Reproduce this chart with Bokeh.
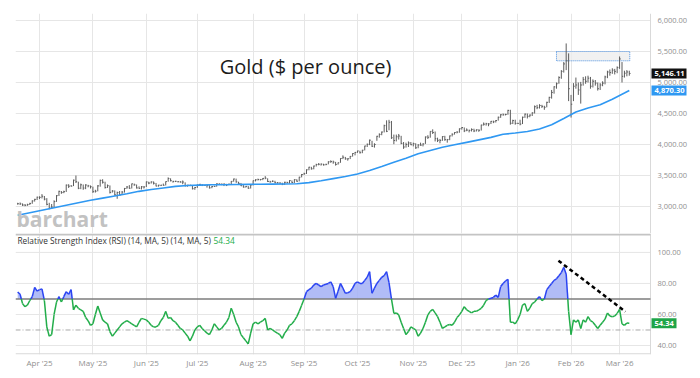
import pandas as pd
from bokeh.plotting import figure
from bokeh.layouts import column
from bokeh.models import Range1d, FixedTicker, Label
from bokeh.core.properties import value
from bokeh.embed import file_html
from bokeh.resources import INLINE

# ---------------- data ----------------
first_date = "2025-03-19"   # first daily bar (business days)

close = [
    3045, 3043, 3024,
    3020, 3030, 3050, 3090, 3115,
    3150, 3148, 3166, 3120, 3035,
    2975, 2990, 3080, 3175, 3245,
    3225, 3240, 3345, 3328, 3330,
    3425, 3400, 3295, 3350, 3298,
    3347, 3333, 3319, 3240, 3247,
    3333, 3421, 3392, 3306, 3336,
    3228, 3250, 3188, 3226, 3187,
    3233, 3291, 3315, 3295, 3366,
    3350, 3300, 3293, 3318, 3315,
    3397, 3378, 3397, 3376, 3331,
    3345, 3344, 3343, 3402, 3452,
    3416, 3405, 3407, 3400, 3395,
    3395, 3334, 3344, 3343, 3287,
    3307, 3349, 3358, 3342, 3340,
    3342, 3301, 3322, 3325, 3365,
    3363, 3360, 3360, 3347, 3359,
    3406, 3444, 3397, 3373, 3335,
    3314, 3325, 3296, 3348, 3416,
    3431, 3435, 3435, 3454, 3458,
    3404, 3398, 3409, 3383, 3382,
    3378, 3357, 3391, 3385, 3418,
    3386, 3433, 3408, 3473, 3516,
    3530, 3592, 3634, 3608, 3653,
    3677, 3682, 3684, 3672, 3680,
    3721, 3725, 3717, 3679, 3705,
    3775, 3795, 3769, 3770, 3809,
    3855, 3873, 3897, 3868, 3908,
    3976, 4004, 4070, 3972, 4000,
    4133, 4163, 4201, 4304, 4213,
    4359, 4109, 4065, 4125, 4137,
    4018, 3960, 4000, 4025, 3996,
    4014, 3947, 3992, 3990, 4009,
    4122, 4116, 4212, 4194, 4094,
    4068, 4066, 4128, 4078, 4079,
    4139, 4166, 4194, 4200, 4254,
    4274, 4221, 4233, 4228, 4243,
    4219, 4238, 4230, 4314, 4328,
    4335, 4332, 4374, 4366, 4387,
    4440, 4480, 4480, 4485, 4550,
    4343, 4386, 4341, 4341, 4330,
    4440, 4490, 4455, 4475, 4510,
    4610, 4595, 4630, 4615, 4600,
    4680, 4760, 4840, 4930, 4980,
    5080, 5180, 5300, 5350, 4900,
    4650, 4940, 4960, 4880, 4960,
    5050, 5020, 5070, 4940, 5020,
    4990, 4900, 4960, 4990, 5090,
    5170, 5160, 5200, 5180, 5240,
    5380, 5100, 5150, 5170, 5146.11,
]

high = [
    3060, 3065, 3050,
    3040, 3045, 3060, 3100, 3125,
    3160, 3165, 3200, 3170, 3135,
    3060, 3040, 3100, 3185, 3255,
    3250, 3255, 3355, 3360, 3345,
    3435, 3500, 3400, 3370, 3355,
    3360, 3350, 3340, 3320, 3270,
    3345, 3435, 3440, 3400, 3355,
    3340, 3265, 3260, 3240, 3250,
    3250, 3300, 3330, 3345, 3370,
    3370, 3355, 3325, 3330, 3330,
    3405, 3400, 3405, 3405, 3380,
    3350, 3350, 3370, 3405, 3470,
    3455, 3415, 3415, 3410, 3410,
    3420, 3390, 3350, 3350, 3340,
    3315, 3355, 3365, 3360, 3345,
    3350, 3345, 3330, 3335, 3375,
    3375, 3370, 3375, 3365, 3370,
    3410, 3450, 3450, 3400, 3380,
    3345, 3330, 3330, 3355, 3420,
    3440, 3450, 3445, 3460, 3490,
    3455, 3415, 3420, 3415, 3395,
    3390, 3385, 3400, 3400, 3425,
    3420, 3440, 3440, 3480, 3525,
    3545, 3600, 3640, 3640, 3660,
    3690, 3700, 3695, 3690, 3690,
    3730, 3745, 3740, 3720, 3710,
    3780, 3825, 3800, 3780, 3815,
    3860, 3880, 3900, 3900, 3915,
    3980, 4015, 4080, 4060, 4020,
    4140, 4180, 4210, 4320, 4390,
    4398, 4380, 4160, 4160, 4170,
    4140, 4040, 4030, 4050, 4040,
    4030, 4020, 4005, 4030, 4020,
    4130, 4150, 4215, 4245, 4210,
    4110, 4090, 4135, 4140, 4090,
    4145, 4180, 4200, 4215, 4260,
    4280, 4275, 4260, 4240, 4260,
    4255, 4245, 4245, 4320, 4355,
    4350, 4345, 4380, 4385, 4395,
    4450, 4490, 4500, 4495, 4560,
    4560, 4400, 4400, 4350, 4400,
    4450, 4500, 4500, 4485, 4520,
    4630, 4640, 4650, 4640, 4625,
    4690, 4770, 4880, 4940, 5000,
    5100, 5200, 5330, 5630, 5470,
    4800, 4990, 5080, 5000, 5010,
    5090, 5100, 5110, 5090, 5050,
    5040, 5000, 4990, 5020, 5110,
    5190, 5210, 5230, 5220, 5260,
    5420, 5330, 5190, 5200, 5190,
]

low = [
    3030, 3025, 3010,
    3005, 3012, 3025, 3045, 3080,
    3105, 3120, 3130, 3100, 3020,
    2955, 2960, 2985, 3075, 3170,
    3205, 3215, 3235, 3300, 3320,
    3330, 3380, 3280, 3280, 3270,
    3280, 3310, 3290, 3220, 3225,
    3245, 3320, 3370, 3290, 3300,
    3210, 3225, 3175, 3125, 3180,
    3185, 3225, 3285, 3285, 3290,
    3335, 3290, 3285, 3275, 3290,
    3315, 3360, 3370, 3355, 3325,
    3320, 3330, 3335, 3340, 3400,
    3405, 3385, 3395, 3390, 3385,
    3360, 3325, 3320, 3330, 3275,
    3270, 3300, 3340, 3330, 3335,
    3305, 3290, 3295, 3315, 3320,
    3350, 3345, 3330, 3330, 3345,
    3355, 3400, 3385, 3365, 3330,
    3305, 3305, 3285, 3290, 3340,
    3405, 3420, 3420, 3425, 3440,
    3395, 3385, 3395, 3375, 3370,
    3370, 3345, 3350, 3375, 3370,
    3380, 3380, 3400, 3405, 3470,
    3510, 3525, 3585, 3595, 3600,
    3645, 3665, 3660, 3660, 3665,
    3680, 3705, 3690, 3660, 3675,
    3705, 3765, 3755, 3740, 3765,
    3805, 3825, 3865, 3855, 3860,
    3905, 3960, 3990, 3960, 3950,
    4060, 4110, 4150, 4195, 4200,
    4230, 4090, 4005, 4050, 4080,
    4005, 3930, 3950, 3960, 3990,
    3970, 3930, 3940, 3980, 3970,
    4010, 4090, 4110, 4170, 4050,
    4040, 4020, 4060, 4060, 4030,
    4070, 4130, 4160, 4180, 4190,
    4240, 4200, 4215, 4195, 4210,
    4200, 4210, 4205, 4225, 4305,
    4305, 4295, 4330, 4345, 4355,
    4385, 4430, 4465, 4470, 4480,
    4320, 4330, 4320, 4335, 4310,
    4330, 4430, 4420, 4440, 4460,
    4500, 4570, 4580, 4590, 4560,
    4600, 4670, 4740, 4820, 4900,
    4980, 5060, 5160, 5200, 4700,
    4435, 4700, 4900, 4800, 4660,
    4950, 4980, 5000, 4900, 4920,
    4950, 4870, 4880, 4940, 4970,
    5070, 5110, 5140, 5130, 5150,
    5220, 5000, 5080, 5100, 5110,
]

# moving average (blue line), read at weekly bar positions
ma_bar = [0, 5, 10, 15, 20, 25, 30, 35, 40, 45, 50, 55, 60, 65, 70, 75, 80, 85,
          90, 95, 100, 105, 110, 115, 120, 125, 130, 135, 140, 145, 150, 155,
          160, 165, 170, 175, 180, 185, 190, 195, 200, 205, 210, 215, 220, 225,
          230, 235, 240, 245, 250, 252]
ma_val = [2860, 2900, 2940, 2980, 3020, 3060, 3100, 3135, 3170, 3205, 3245, 3275,
          3300, 3325, 3340, 3345, 3350, 3352, 3355, 3358, 3360, 3362, 3364, 3368,
          3385, 3415, 3450, 3485, 3525, 3580, 3645, 3715, 3780, 3850, 3905, 3955,
          3995, 4035, 4075, 4115, 4165, 4185, 4210, 4250, 4320, 4420, 4525, 4590,
          4640, 4730, 4830, 4870.30]

rsi = [
    74.5, 73, 67, 65, 66, 69, 71.5, 77.5, 75, 76,
    76.5, 69, 52, 46, 47, 60, 68, 71.5, 68, 71.5,
    74.7, 73, 76, 63, 66, 64, 63, 62, 58, 56,
    53, 54, 60, 65.5, 61, 56.5, 55, 54, 49, 46,
    48, 50, 52, 54, 55, 56, 55, 54, 53, 52,
    55, 57.5, 57, 56.5, 55, 53, 52, 52, 53, 56,
    58, 62, 57.5, 58, 56, 55, 53, 51, 50, 48,
    46, 43, 46, 50, 52, 53, 51, 49.5, 48, 47,
    50, 54, 52, 50, 51, 53, 55, 58, 64, 60,
    55, 52, 47, 45, 43, 41, 48, 54, 55, 54,
    55, 56, 57.5, 50, 51, 50, 49, 48, 47, 44.6,
    48, 50, 53, 54, 56, 58.6, 62, 66, 70, 74.7,
    76, 77, 79, 80, 79, 78, 79, 79.5, 80, 81,
    78, 70.4, 75, 80, 77, 73.7, 74, 74.7, 77, 80,
    81, 80, 80, 82, 84, 87.6, 73.7, 77, 80, 82,
    84, 85, 87.6, 80.5, 70, 60.7, 61, 59.7, 55, 51,
    47, 49, 52, 51, 50, 46, 48, 51, 55, 59.7,
    62, 63.3, 61, 58.6, 55, 51, 52, 53, 53.5, 53,
    55, 58, 59.7, 62, 65, 63, 62, 61, 62, 62,
    63, 64, 66, 69, 70, 70.5, 71, 72.5, 71, 78,
    80, 81.6, 82.7, 55, 55, 54, 56.5, 60, 66, 67,
    62, 64, 67, 68, 70, 71.5, 69, 70, 76, 78,
    80, 82, 83, 85, 87, 90.4, 86, 62, 47, 56.5,
    55, 56.5, 51, 56.5, 55, 58.6, 56, 55, 53, 51,
    53, 55, 57, 61, 59, 58.6, 59, 60.7, 63.3, 54,
    53, 54.5, 54.34,
]

month_labels = ["Apr '25", "May '25", "Jun '25", "Jul '25", "Aug '25", "Sep '25",
                "Oct '25", "Nov '25", "Dec '25", "Jan '26", "Feb '26", "Mar '26"]
price_ticks = [3000, 3500, 4000, 4500, 5000, 5500, 6000]
price_tick_labels = ["3,000.00", "3,500.00", "4,000.00", "4,500.00", "5,000.00",
                     "5,500.00", "6,000.00"]
rsi_ticks = [40, 60, 80, 100]
rsi_tick_labels = ["40.00", "60.00", "80.00", "100.00"]
rsi_levels = [70, 50]

# annotations drawn on the reference
box_bars = [222.0, 252.2]
box_price = [5350, 5500]
trend_bars = [222.8, 250.4]
trend_rsi = [94.7, 61.8]

last_close = close[-1]
last_ma = ma_val[-1]
last_rsi = rsi[-1]

# ---------------- styling / geometry ----------------
FONT = "Open Sans"
GRID = "#e6e6e6"
LBL = "#8f8f8f"
BAR = "#5c5c5c"
MA_C = "#2f98f2"
GREEN = "#22ad4a"
BLUE = "#2b44f2"
FILL = "#a3b0f6"

W, LEFT = 700, 15
FRAME_W = W - LEFT           # frame runs to the right edge
PLOT_W = 635                 # width of the charting area (axis line at x=650)
X0 = -0.9
BAR_PX = 2.427               # pixels per daily bar
X1 = X0 + FRAME_W / BAR_PX
XR = X0 + PLOT_W / BAR_PX    # bar coordinate of the right axis line

P_LO, P_HI, P_FH = 2565, 6113, 220
R_LO, R_HI, R_FH = 34.2, 112.2, 121
p_upx = (P_HI - P_LO) / P_FH  # price per pixel
r_upx = (R_HI - R_LO) / R_FH  # rsi per pixel

N = len(close)
bars = list(range(N))
dates = pd.bdate_range(first_date, periods=N)
month_pos = [i for i in range(1, N) if dates[i].month != dates[i - 1].month]

xr = Range1d(X0, X1)
tf = value(FONT)


def style_common(p):
    p.outline_line_color = None
    p.background_fill_color = "white"
    p.border_fill_color = "white"
    p.yaxis.visible = False
    p.ygrid.visible = False
    p.xgrid.ticker = FixedTicker(ticks=month_pos)
    p.xgrid.grid_line_color = GRID


def right_scale(p, ticks, labels):
    p.segment(x0=[X0] * len(ticks), x1=[XR] * len(ticks), y0=ticks, y1=ticks,
              line_color=GRID, line_width=1)
    p.text(x=[XR] * len(ticks), y=ticks, text=labels, x_offset=7,
           text_font=tf, text_font_size="7.5px", text_color=LBL,
           text_baseline="middle", text_align="left")


def value_box(p, yv, label, color, width_px, upx):
    p.quad(left=[XR + 1 / BAR_PX], right=[XR + (1 + width_px) / BAR_PX],
           bottom=[yv - 5 * upx], top=[yv + 5 * upx], fill_color=color,
           line_color=None)
    p.text(x=[XR], y=[yv], text=[label], x_offset=4, text_font=tf,
           text_font_size="7.5px", text_font_style="bold", text_color="white",
           text_baseline="middle", text_align="left")


# ---------------- price panel ----------------
p1 = figure(width=W, height=233, x_range=xr, y_range=Range1d(P_LO, P_HI),
            output_backend="svg", toolbar_location=None,
            min_border_left=LEFT, min_border_right=0, min_border_top=13,
            min_border_bottom=0)
style_common(p1)
p1.xaxis.visible = False

right_scale(p1, price_ticks, price_tick_labels)
p1.segment(x0=[XR], x1=[XR], y0=[P_LO], y1=[P_HI], line_color="#d9d9d9",
           line_width=1)

p1.quad(left=[box_bars[0]], right=[box_bars[1]], bottom=[box_price[0]],
        top=[box_price[1]], fill_color="#ececec", fill_alpha=0.75,
        line_color="#4a8fe0", line_dash="1 1", line_width=1)
p1.segment(x0=bars, y0=low, x1=bars, y1=high, line_color=BAR, line_width=1)
p1.segment(x0=bars, y0=close, x1=[b + 0.5 for b in bars], y1=close,
           line_color=BAR, line_width=1)
p1.line(ma_bar, ma_val, line_color=MA_C, line_width=1.6)

value_box(p1, last_close, f"{last_close:,.2f}", "#111111", 35, p_upx)
value_box(p1, last_ma, f"{last_ma:,.2f}", MA_C, 35, p_upx)

p1.add_layout(Label(x=118.6, y=5258, text="Gold ($ per ounce)", text_font=FONT,
                    text_font_size="20px", text_color="#1c1c1c",
                    text_align="center", text_baseline="middle"))
p1.add_layout(Label(x=X0, x_offset=1, y=P_LO + 0.3 * p_upx, text="barchart",
                    text_font=FONT, text_font_size="21px", text_font_style="bold",
                    text_color="#c2c2c2", text_baseline="bottom"))

# ---------------- RSI panel ----------------
p2 = figure(width=W, height=145, x_range=xr, y_range=Range1d(R_LO, R_HI),
            output_backend="svg", toolbar_location=None,
            min_border_left=LEFT, min_border_right=0, min_border_top=0,
            min_border_bottom=24)
style_common(p2)

xa = p2.xaxis[0]
xa.ticker = FixedTicker(ticks=month_pos)
xa.major_label_overrides = {pos: lab for pos, lab in zip(month_pos, month_labels)}
xa.major_tick_line_color = None
xa.minor_tick_line_color = None
xa.major_tick_out = 0
xa.axis_line_color = None
xa.major_label_standoff = 2
xa.major_label_text_font = FONT
xa.major_label_text_font_size = "8px"
xa.major_label_text_color = LBL

right_scale(p2, rsi_ticks, rsi_tick_labels)
# frame lines: right axis, bottom axis, top separator
p2.segment(x0=[XR], x1=[XR], y0=[R_LO], y1=[R_HI], line_color="#d9d9d9", line_width=1)
p2.segment(x0=[X0], x1=[XR], y0=[R_LO + 0.6 * r_upx], y1=[R_LO + 0.6 * r_upx],
           line_color="#d9d9d9", line_width=1.2)
p2.segment(x0=[X0], x1=[XR], y0=[R_HI - 1.0 * r_upx], y1=[R_HI - 1.0 * r_upx],
           line_color="#c4c4c4", line_width=2)

# split RSI line where it crosses the 70 level
lvl = rsi_levels[0]
px, py = [], []
for i in range(N):
    if i > 0:
        a, b = rsi[i - 1], rsi[i]
        if (a - lvl) * (b - lvl) < 0:
            t = (lvl - a) / (b - a)
            px.append(i - 1 + t)
            py.append(lvl)
    px.append(i)
    py.append(rsi[i])

p2.varea(x=px, y1=[lvl] * len(px), y2=[max(v, lvl) for v in py],
         fill_color=FILL, fill_alpha=0.85)

p2.segment(x0=[X0], x1=[XR], y0=[rsi_levels[1]], y1=[rsi_levels[1]],
           line_color="#a8a8a8", line_width=1, line_dash="5 2 1 2")
p2.segment(x0=[X0], x1=[XR], y0=[rsi_levels[0]], y1=[rsi_levels[0]],
           line_color="#7d7d7d", line_width=1.5)

seg_col = [BLUE if (py[k] + py[k + 1]) / 2 > lvl else GREEN for k in range(len(px) - 1)]
p2.segment(x0=px[:-1], y0=py[:-1], x1=px[1:], y1=py[1:], line_color=seg_col,
           line_width=1.5)

p2.line(trend_bars, trend_rsi, line_color="black", line_width=2.5, line_dash="4 3")

value_box(p2, last_rsi, f"{last_rsi:.2f}", "#1fa548", 25, r_upx)

p2.add_layout(Label(x=X0, x_offset=2, y=107.6,
                    text="Relative Strength Index (RSI) (14, MA, 5)  (14, MA, 5)",
                    text_font=FONT, text_font_size="8.3px", text_color="#333333",
                    text_baseline="middle"))
p2.add_layout(Label(x=X0, x_offset=198, y=107.6, text=f"{last_rsi:.2f}",
                    text_font=FONT, text_font_size="8.3px", text_color=GREEN,
                    text_baseline="middle"))

layout = column(p1, p2, spacing=0)
open("out.html", "w").write(file_html(layout, INLINE))
